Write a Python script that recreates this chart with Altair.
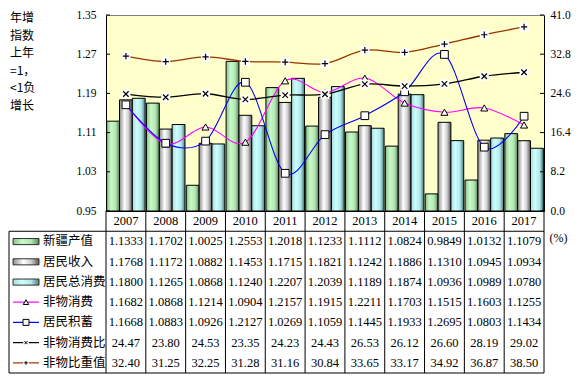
import altair as alt
import pandas as pd

years = ['2007', '2008', '2009', '2010', '2011', '2012', '2013', '2014', '2015', '2016', '2017']
xinjiang_output = [1.1333, 1.1702, 1.0025, 1.2553, 1.2018, 1.1233, 1.1112, 1.0824, 0.9849, 1.0132, 1.1079]
resident_income = [1.1768, 1.1172, 1.0882, 1.1453, 1.1715, 1.1821, 1.1242, 1.1886, 1.1310, 1.0945, 1.0934]
resident_consumption = [1.1800, 1.1265, 1.0868, 1.1240, 1.2207, 1.2039, 1.1189, 1.1874, 1.0936, 1.0989, 1.0780]
nonmaterial_consumption = [1.1682, 1.0868, 1.1214, 1.0904, 1.2157, 1.1915, 1.2211, 1.1703, 1.1515, 1.1603, 1.1255]
resident_savings = [1.1668, 1.0883, 1.0926, 1.2127, 1.0269, 1.1059, 1.1445, 1.1933, 1.2695, 1.0803, 1.1434]
nonmaterial_ratio = [24.47, 23.80, 24.53, 23.35, 24.23, 24.43, 26.53, 26.12, 26.60, 28.19, 29.02]
nonmaterial_share = [32.40, 31.25, 32.25, 31.28, 31.16, 30.84, 33.65, 33.17, 34.92, 36.87, 38.50]
series_names = ['新疆产值', '居民收入', '居民总消费', '非物消费', '居民积蓄', '非物消费比', '非物比重值']
left_ticks = [0.95, 1.03, 1.11, 1.19, 1.27, 1.35]
right_ticks = [0.0, 8.2, 16.4, 24.6, 32.8, 41.0]
left_title = ['年增', '指数', '上年', '=1，', '<1负', '增长']
right_title = '(%)'

W, H = 438, 196
SERIF = 'Liberation Serif'
CJK = 'Noto Sans CJK SC'

X_PATH = 'M-1,-1L1,1M-1,1L1,-1'
PLUS_PATH = 'M-1,0L1,0M0,-1L0,1'


def grad(stops):
    return alt.Gradient(gradient='linear', x1=0, x2=1, y1=0, y2=0,
                        stops=[alt.GradientStop(offset=o, color=c) for o, c in stops])


GREEN = grad([(0, '#8CBF8C'), (0.35, '#C8FAC8'), (0.7, '#B3E6B3'), (1, '#5A8A5A')])
GRAY = grad([(0, '#8C8C8C'), (0.4, '#FFFFFF'), (0.7, '#CFCFCF'), (1, '#555555')])
CYAN = grad([(0, '#A6D9D9'), (0.35, '#CCFFFF'), (0.7, '#B3E8E8'), (1, '#4C7F7F')])
bar_fills = [GREEN, GRAY, CYAN]
line_colors = ['#FF00FF', '#0000FF', '#000000', '#993300']


def xenc(**kw):
    return alt.X('year:N', title=None, sort=years,
                 scale=alt.Scale(paddingInner=0, paddingOuter=0),
                 axis=alt.Axis(labels=False, ticks=False, grid=False, domainColor='black'), **kw)


def yleft(field='v'):
    return alt.Y(f'{field}:Q', title=None,
                 scale=alt.Scale(domain=[0.95, 1.35], nice=False, zero=False),
                 axis=alt.Axis(orient='left', values=left_ticks, format='.2f', ticks=False,
                               labelPadding=10, grid=False, domainColor='black',
                               labelFont=SERIF, labelFontSize=11.5, labelColor='black'))


def yright(field='v'):
    return alt.Y(f'{field}:Q', title=right_title,
                 scale=alt.Scale(domain=[0, 41], nice=False, zero=True),
                 axis=alt.Axis(orient='right', values=right_ticks, format='.1f', ticks=False,
                               labelPadding=6, grid=False, domainColor='black',
                               labelFont=SERIF, labelFontSize=11.5, labelColor='black',
                               titleAngle=0, titleAlign='left', titleBaseline='middle',
                               titleX=5, titleY=222, titleFont=SERIF, titleFontSize=12,
                               titleFontWeight='normal'))


def yrow(field):
    return alt.Y(f'{field}:Q', title=None,
                 scale=alt.Scale(domain=[-1, 7], range=[196, 358], nice=False, zero=False),
                 axis=None)


def sdf(vals, name):
    return pd.DataFrame({'year': years, 'v': vals, 's': name})


# ---------------- left-axis group ----------------
left_layers = []
bar_series = [xinjiang_output, resident_income, resident_consumption]
for vals, name, fill in zip(bar_series, series_names[:3], bar_fills):
    left_layers.append(
        alt.Chart(sdf(vals, name)).mark_bar(fill=fill, stroke='black', strokeWidth=1).encode(
            x=xenc(),
            xOffset=alt.XOffset('s:N', scale=alt.Scale(domain=series_names[:3], paddingOuter=0.05, paddingInner=0)),
            y=yleft(),
            y2=alt.datum(0.95),
        )
    )

left_ticks_df = pd.DataFrame({'v': left_ticks})
left_layers.append(
    alt.Chart(left_ticks_df).mark_rule(color='black').encode(
        y=yleft(), x=alt.value(0), x2=alt.value(4))
)

for vals, name, col in [(nonmaterial_consumption, series_names[3], line_colors[0]),
                        (resident_savings, series_names[4], line_colors[1])]:
    left_layers.append(
        alt.Chart(sdf(vals, name)).mark_line(color=col, strokeWidth=1.1, interpolate='cardinal').encode(
            x=xenc(), y=yleft())
    )
left_layers.append(
    alt.Chart(sdf(nonmaterial_consumption, series_names[3])).mark_point(
        shape='triangle-up', filled=True, fill='white', stroke='black', strokeWidth=1, size=50, opacity=1
    ).encode(x=xenc(), y=yleft())
)
left_layers.append(
    alt.Chart(sdf(resident_savings, series_names[4])).mark_point(
        shape='square', filled=True, fill='white', stroke='black', strokeWidth=1, size=60, opacity=1
    ).encode(x=xenc(), y=yleft())
)
left_group = alt.layer(*left_layers)

# ---------------- right-axis group ----------------
right_layers = []
right_ticks_df = pd.DataFrame({'v': right_ticks})
right_layers.append(
    alt.Chart(right_ticks_df).mark_rule(color='black').encode(
        y=yright(), x=alt.value(W - 4), x2=alt.value(W))
)
for vals, name, col, path, sz in [(nonmaterial_ratio, series_names[5], line_colors[2], X_PATH, 30),
                                  (nonmaterial_share, series_names[6], line_colors[3], PLUS_PATH, 40)]:
    right_layers.append(
        alt.Chart(sdf(vals, name)).mark_line(color=col, strokeWidth=1.3, interpolate='cardinal').encode(
            x=xenc(), y=yright())
    )
    right_layers.append(
        alt.Chart(sdf(vals, name)).mark_square(color='white', opacity=1, size=81).encode(
            x=xenc(), y=yright())
    )
    right_layers.append(
        alt.Chart(sdf(vals, name)).mark_point(
            shape=path, filled=False, stroke='black', strokeWidth=1.2, size=sz, opacity=1
        ).encode(x=xenc(), y=yright())
    )
right_group = alt.layer(*right_layers)

# ---------------- data table group ----------------
table_rows = [xinjiang_output, resident_income, resident_consumption, nonmaterial_consumption,
              resident_savings, nonmaterial_ratio, nonmaterial_share]
formats = ['.4f'] * 5 + ['.2f'] * 2
records = [{'year': y, 'r': -0.5, 'label': y} for y in years]
for i, (row, f) in enumerate(zip(table_rows, formats)):
    for y, v in zip(years, row):
        records.append({'year': y, 'r': i + 0.5, 'label': format(v, f)})
table_df = pd.DataFrame(records)

tbl = []
tbl.append(
    alt.Chart(table_df).mark_text(font=SERIF, fontSize=12.5, color='black', align='center', baseline='middle').encode(
        x=xenc(), y=yrow('r'), text='label:N')
)
vlines = pd.DataFrame({'year': years, 'r0': -1, 'r1': 7})
tbl.append(
    alt.Chart(vlines).mark_rule(color='black', strokeWidth=1).encode(
        x=xenc(bandPosition=0), y=yrow('r0'), y2='r1:Q')
)
tbl.append(
    alt.Chart(vlines.tail(1)).mark_rule(color='black', strokeWidth=1).encode(
        x=xenc(bandPosition=1), y=yrow('r0'), y2='r1:Q')
)
hlines = pd.DataFrame({'r': [0, 7]})
tbl.append(
    alt.Chart(hlines).mark_rule(color='black', strokeWidth=1).encode(
        y=yrow('r'), x=alt.value(-97), x2=alt.value(W))
)
tbl.append(
    alt.Chart(pd.DataFrame({'r0': [0], 'r1': [7]})).mark_rule(color='black', strokeWidth=1).encode(
        y=yrow('r0'), y2='r1:Q', x=alt.value(-97))
)
# legend column
for i, fill in enumerate(bar_fills):
    tbl.append(
        alt.Chart(pd.DataFrame({'a': [i + 0.36], 'b': [i + 0.66]})).mark_rect(
            fill=fill, stroke='#303030', strokeWidth=1).encode(
            y=yrow('a'), y2='b:Q', x=alt.value(-93), x2=alt.value(-67))
    )
line_leg = pd.DataFrame({'r': [3.5, 4.5, 5.5, 6.5], 'c': line_colors})
tbl.append(
    alt.Chart(line_leg).mark_rule(strokeWidth=1.2).encode(
        y=yrow('r'), x=alt.value(-93), x2=alt.value(-67), color=alt.Color('c:N', scale=None))
)
tbl.append(
    alt.Chart(line_leg.iloc[2:]).mark_square(color='white', opacity=1, size=30).encode(
        y=yrow('r'), x=alt.value(-80))
)
for idx, shape, sz, filled in [(0, 'triangle-up', 30, True), (1, 'square', 36, True),
                               (2, X_PATH, 10, False), (3, PLUS_PATH, 14, False)]:
    tbl.append(
        alt.Chart(line_leg.iloc[idx:idx + 1]).mark_point(
            shape=shape, filled=filled, fill='white', stroke='black', strokeWidth=1, size=sz, opacity=1
        ).encode(y=yrow('r'), x=alt.value(-80))
    )
leg_lab = pd.DataFrame({'r': [i + 0.5 for i in range(7)], 'label': series_names})
tbl.append(
    alt.Chart(leg_lab).mark_text(font=CJK, fontSize=12.5, color='black', align='left', baseline='middle').encode(
        y=yrow('r'), x=alt.value(-63), text='label:N')
)
# left axis title (multi-line)
title_df = pd.DataFrame({'t': ['\n'.join(left_title)]})
tbl.append(
    alt.Chart(title_df).mark_text(font=CJK, fontSize=12, color='black', align='left', baseline='top',
                                  lineBreak='\n', lineHeight=17.6).encode(
        text='t:N', x=alt.value(-96), y=alt.value(-2))
)
table_group = alt.layer(*tbl)

chart = alt.layer(left_group, right_group, table_group).resolve_scale(
    y='independent'
).properties(
    width=W, height=H,
    autosize=alt.AutoSizeParams(type='none'),
    padding={'left': 98, 'top': 7, 'right': 30, 'bottom': 166},
).configure_view(
    fill='#FFFFCC', stroke='#808080', strokeWidth=1
).configure_axis(
    labelFont=SERIF, labelFontSize=11.5, labelColor='black', titleColor='black', domainWidth=1
)

chart.save('out.html', embed_options={'renderer': 'svg', 'actions': False})
